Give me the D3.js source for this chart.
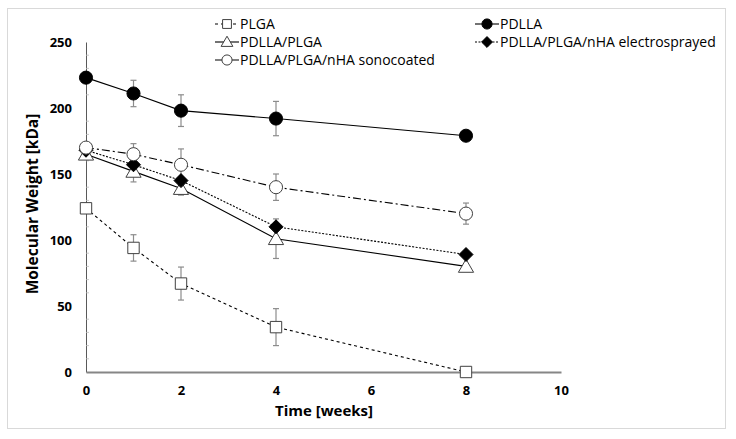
<!DOCTYPE html>
<html><head><meta charset="utf-8">
<script src="https://cdn.jsdelivr.net/npm/d3@7"></script>
<style>body{margin:0;background:#fff}svg{display:block}</style>
</head><body>
<svg id="c" width="736" height="439"></svg>
<script>
const weeks = [0, 1, 2, 4, 8];
const plga = [124, 94, 67, 34, 0];
const plgaErr = [0, 10, 12.5, 14, 0];
const pdlla = [223, 211, 198, 192, 179];
const pdllaErr = [0, 10, 12, 13, 0];
const blend = [165, 152, 139, 101, 80];
const blendErr = [0, 8, 5, 15, 0];
const electro = [168, 157, 145, 110, 89];
const electroErr = [0, 0, 0, 0, 0];
const sono = [170, 165, 157, 140, 120];
const sonoErr = [0, 8, 12, 10, 8];
const xTicks = [0, 2, 4, 6, 8, 10];
const yTicks = [0, 50, 100, 150, 200, 250];

const series = [
  {name: "PLGA", vals: plga, err: plgaErr, sym: "square", fill: "#fff", dash: "3,3", col: 0, row: 0},
  {name: "PDLLA", vals: pdlla, err: pdllaErr, sym: "circle", fill: "#000", dash: null, col: 1, row: 0},
  {name: "PDLLA/PLGA", vals: blend, err: blendErr, sym: "triangle", fill: "#fff", dash: null, col: 0, row: 1},
  {name: "PDLLA/PLGA/nHA electrosprayed", vals: electro, err: electroErr, sym: "diamond", fill: "#000", dash: "2,1.5", col: 1, row: 1},
  {name: "PDLLA/PLGA/nHA sonocoated", vals: sono, err: sonoErr, sym: "circle", fill: "#fff", dash: "8,3,2,3", col: 0, row: 2}
];

const svg = d3.select("#c");
svg.append("rect").attr("x", 7.5).attr("y", 8.5).attr("width", 718).attr("height", 420)
  .attr("fill", "#fff").attr("stroke", "#d9d9d9");

const x = d3.scaleLinear().domain([0, 10]).range([86, 561]);
const y = d3.scaleLinear().domain([0, 250]).range([372, 42]);

// y axis
const gy = svg.append("g").attr("transform", "translate(86,0)")
  .call(d3.axisLeft(y).tickValues(yTicks).tickSize(0).tickPadding(14));
gy.select(".domain").attr("stroke", "#595959").attr("stroke-width", 1);
gy.selectAll("text").attr("font-family", "Open Sans, sans-serif").attr("font-weight", "bold")
  .attr("font-size", 13).attr("fill", "#000");
const minor = d3.range(10, 250, 10).filter(v => v % 50 !== 0);
svg.append("g").selectAll("line").data(minor).join("line")
  .attr("x1", 86).attr("x2", 89).attr("y1", d => y(d)).attr("y2", d => y(d))
  .attr("stroke", "#bbb").attr("stroke-width", 0.8);

// x axis
const gx = svg.append("g").attr("transform", "translate(0,372)")
  .call(d3.axisBottom(x).tickValues(xTicks).tickSize(0).tickPadding(14));
gx.select(".domain").attr("stroke", "#868686").attr("stroke-width", 2);
gx.selectAll("text").attr("font-family", "Open Sans, sans-serif").attr("font-weight", "bold")
  .attr("font-size", 13).attr("fill", "#000");

// axis titles
svg.append("text").attr("x", 324).attr("y", 416).attr("text-anchor", "middle")
  .attr("font-family", "Open Sans, sans-serif").attr("font-weight", "bold").attr("font-size", 15)
  .text("Time [weeks]");
svg.append("text").attr("transform", "translate(38,204) rotate(-90)").attr("text-anchor", "middle")
  .attr("font-family", "Open Sans, sans-serif").attr("font-weight", "bold").attr("font-size", 15.5)
  .text("Molecular Weight [kDa]");

const symType = {square: d3.symbolSquare, circle: d3.symbolCircle, triangle: d3.symbolTriangle};
const symSize = {square: 130, circle: 135, triangle: 100, diamond: 7};
function symPath(s, k) {
  if (s === "diamond") {
    const r = symSize.diamond * Math.sqrt(k);
    return `M0,${-r}L${r},0L0,${r}L${-r},0Z`;
  }
  return d3.symbol().type(symType[s]).size(symSize[s] * k)();
}

const line = d3.line().x((d, i) => x(weeks[i])).y(d => y(d));
series.forEach(s => {
  svg.append("path").attr("d", line(s.vals)).attr("fill", "none")
    .attr("stroke", "#000").attr("stroke-width", 1.1)
    .attr("stroke-dasharray", s.dash);
});
// error bars
series.forEach(s => {
  const g = svg.append("g").attr("stroke", "#8c8c8c").attr("stroke-width", 1.2);
  s.vals.forEach((v, i) => {
    const e = s.err[i];
    if (!e) return;
    const cx = x(weeks[i]);
    g.append("line").attr("x1", cx).attr("x2", cx).attr("y1", y(v - e)).attr("y2", y(v + e));
    g.append("line").attr("x1", cx - 3).attr("x2", cx + 3).attr("y1", y(v - e)).attr("y2", y(v - e));
    g.append("line").attr("x1", cx - 3).attr("x2", cx + 3).attr("y1", y(v + e)).attr("y2", y(v + e));
  });
});
// markers
const drawOrder = [0, 2, 3, 4, 1];
drawOrder.forEach(k => {
  const s = series[k];
  svg.append("g").selectAll("path").data(s.vals).join("path")
    .attr("d", symPath(s.sym, 1))
    .attr("transform", (d, i) => `translate(${x(weeks[i])},${y(d) + (s.sym === "triangle" ? 1.5 : 0)})`)
    .attr("fill", s.fill).attr("stroke", s.fill === "#000" ? "#000" : "#404040").attr("stroke-width", 1);
});

// legend
const colX = [227, 487];
const rowY = [24, 42, 60];
series.forEach(s => {
  const cx = colX[s.col], cy = rowY[s.row];
  const g = svg.append("g");
  g.append("line").attr("x1", cx - 12).attr("x2", cx + 12).attr("y1", cy).attr("y2", cy)
    .attr("stroke", "#000").attr("stroke-width", 1.1).attr("stroke-dasharray", s.dash);
  g.append("path").attr("d", symPath(s.sym, 0.6))
    .attr("transform", `translate(${cx},${cy + (s.sym === "triangle" ? 1 : 0)})`)
    .attr("fill", s.fill).attr("stroke", s.fill === "#000" ? "#000" : "#404040");
  g.append("text").attr("x", cx + 13).attr("y", cy).attr("dy", "0.35em")
    .attr("font-family", "Open Sans, sans-serif").attr("font-size", 14).attr("fill", "#000")
    .text(s.name);
});
</script>
</body></html>
